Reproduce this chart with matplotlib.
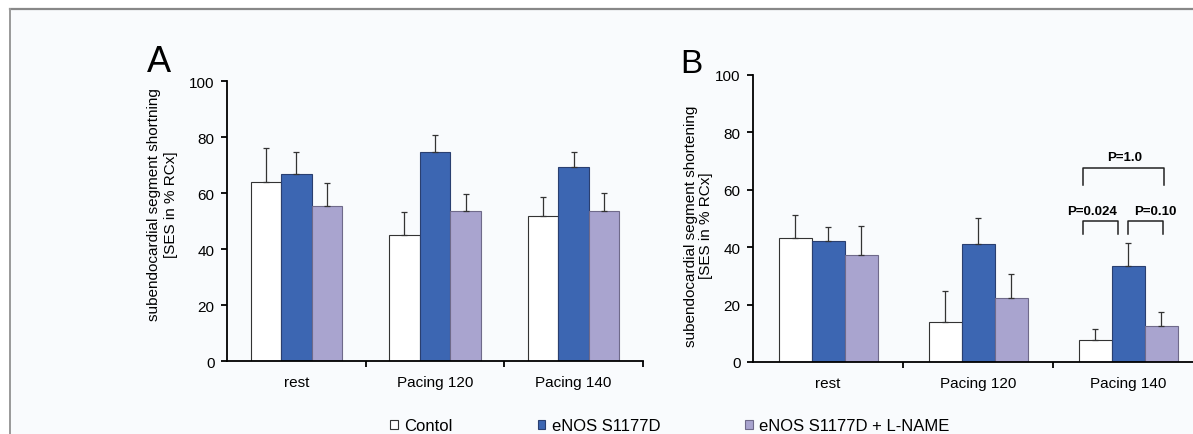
import numpy as np
import matplotlib
matplotlib.use("Agg")
import matplotlib.pyplot as plt
from matplotlib.lines import Line2D
from matplotlib.patches import Patch

plt.rcParams['font.family'] = ['Liberation Sans', 'DejaVu Sans']

groups = ['rest', 'Pacing 120', 'Pacing 140']
series = ['Contol', 'eNOS S1177D', 'eNOS S1177D + L-NAME']

# panel A
a_control = [64.1, 45.1, 51.8]
a_control_err = [12.2, 8.1, 6.9]
a_enos = [66.9, 74.9, 69.3]
a_enos_err = [7.7, 6.1, 5.6]
a_lname = [55.4, 53.7, 53.8]
a_lname_err = [8.3, 6.1, 6.2]

# panel B
b_control = [43.1, 13.8, 7.5]
b_control_err = [8.1, 11.0, 4.0]
b_enos = [42.2, 41.1, 33.4]
b_enos_err = [4.7, 9.0, 7.9]
b_lname = [37.2, 22.3, 12.6]
b_lname_err = [10.0, 8.3, 4.9]

# p-value brackets in panel B: (x left, x right, y top, y leg end, label, x text, y text)
brackets = [(1.70, 2.24, 67.5, 61.5, 'P=1.0', 1.98, 71.5),
            (1.70, 1.93, 49.1, 44.6, 'P=0.024', 1.76, 52.6),
            (2.00, 2.23, 49.1, 44.6, 'P=0.10', 2.18, 52.6)]

colors = ['white', '#3c66b2', '#a9a4cf']
edges = ['#333333', '#2a3f70', '#6f6a8a']
W, H = 1193, 435
fig = plt.figure(figsize=(W / 100, H / 100), dpi=100)
fig.patch.set_facecolor('white')

# scanned page frame
fig.patches.append(plt.Rectangle((10 / W, 0), 1, 1 - 10 / H, transform=fig.transFigure,
                                 facecolor='#f9fbfd', edgecolor='none', zorder=-5))
fig.add_artist(Line2D([10 / W, 1], [1 - 10 / H, 1 - 10 / H], color='#888888', lw=1.6))
fig.add_artist(Line2D([10 / W, 10 / W], [0, 1 - 10 / H], color='#999999', lw=1.4))


def make_panel(rect, vals, errs):
    ax = fig.add_axes(rect)
    ax.patch.set_alpha(0)
    x = np.arange(len(groups))
    w = 0.22
    for i, (v, e) in enumerate(zip(vals, errs)):
        xs = x + (i - 1) * w
        ax.bar(xs, v, w, color=colors[i], edgecolor=edges[i], linewidth=0.8, zorder=2)
        ax.errorbar(xs, v, yerr=[np.zeros(len(e)), e], fmt='none', ecolor='#333333',
                    elinewidth=0.9, capsize=2.5, capthick=0.9, zorder=3)
    ax.set_xlim(-0.5, 2.5)
    ax.set_ylim(0, 100)
    ax.set_yticks(range(0, 101, 20))
    ax.set_xticks([0.5, 1.5, 2.5])
    ax.set_xticklabels([])
    ax.set_xticks(x, minor=True)
    ax.set_xticklabels(groups, minor=True)
    ax.tick_params(axis='x', which='major', direction='out', length=4, width=1.3)
    ax.tick_params(axis='x', which='minor', length=0, pad=10, labelsize=11)
    ax.tick_params(axis='y', direction='out', length=4, width=1.3, pad=5, labelsize=11)
    for s in ['top', 'right']:
        ax.spines[s].set_visible(False)
    for s in ['left', 'bottom']:
        ax.spines[s].set_linewidth(1.3)
    return ax


ax_a = make_panel([227 / W, 72.7 / H, 416 / W, 280 / H],
                  [a_control, a_enos, a_lname], [a_control_err, a_enos_err, a_lname_err])
ax_b = make_panel([753 / W, 72 / H, 450 / W, 287.3 / H],
                  [b_control, b_enos, b_lname], [b_control_err, b_enos_err, b_lname_err])

for x0, x1, yt, yl, lab, xt, ytxt in brackets:
    ax_b.plot([x0, x0, x1, x1], [yl, yt, yt, yl], color='#222222', lw=1.1, clip_on=False)
    ax_b.text(xt, ytxt, lab, ha='center', va='center', fontsize=9.5, fontweight='bold')

fig.text(162.5 / W, 1 - 205 / H, 'subendocardial segment shortning\n[SES in % RCx]',
         rotation=90, ha='center', va='center', multialignment='center', fontsize=11,
         linespacing=1.2)
fig.text(698.5 / W, 1 - 226 / H, 'subendocardial segment shortening\n[SES in % RCx]',
         rotation=90, ha='center', va='center', multialignment='center', fontsize=11,
         linespacing=1.1)

fig.text(147 / W, 1 - 72 / H, 'A', fontsize=26, va='baseline', ha='left')
fig.text(680 / W, 1 - 73 / H, 'B', fontsize=24, va='baseline', ha='left')

handles = [Patch(facecolor=c, edgecolor=e, linewidth=0.8) for c, e in zip(colors, edges)]
fig.legend(handles, series, loc='center left', bbox_to_anchor=(390 / W, 1 - 427 / H),
           ncol=3, frameon=False, fontsize=12, handlelength=0.45, handleheight=0.45,
           handletextpad=0.4, columnspacing=5.1, borderpad=0, borderaxespad=0)

fig.savefig('out.png', dpi=100)
